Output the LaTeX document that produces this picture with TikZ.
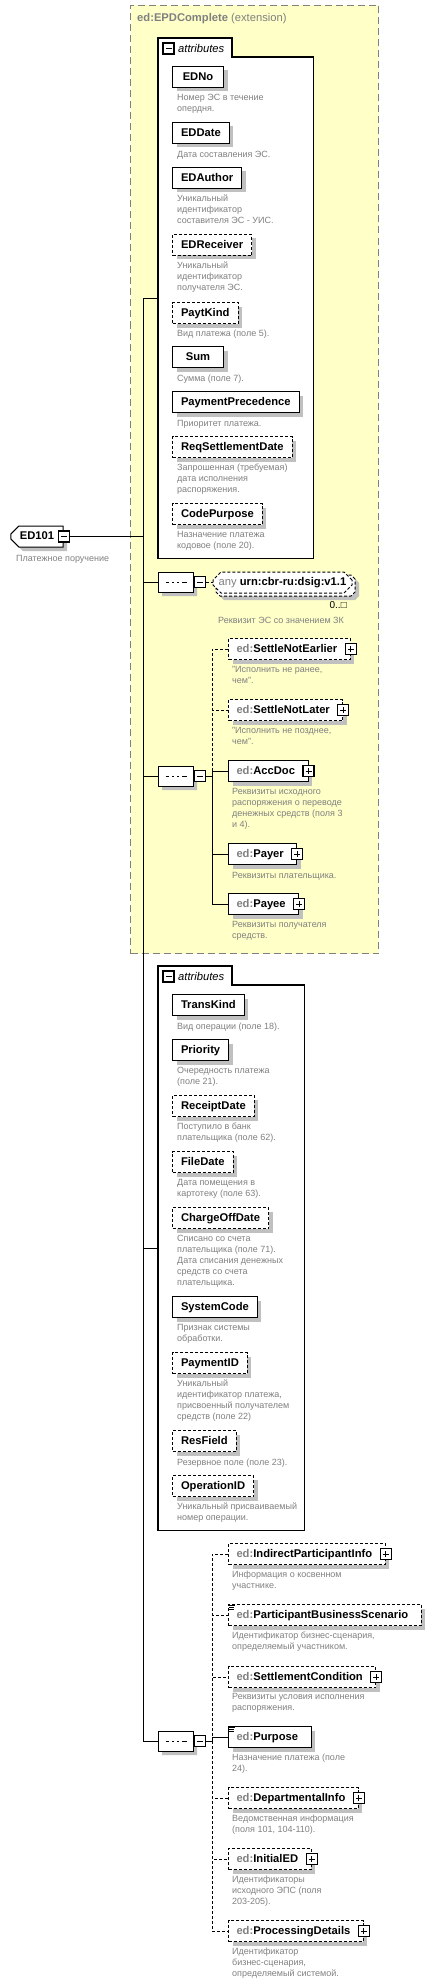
\documentclass[tikz,border=0pt]{standalone}
\usepackage{fontspec}
\setmainfont{Liberation Sans}
\usetikzlibrary{shapes.misc,shadows}
\definecolor{extyellow}{RGB}{255,255,200}
\definecolor{descgray}{RGB}{128,128,128}
\definecolor{shadowgray}{RGB}{192,192,192}

\begin{document}
\begin{tikzpicture}[x=1pt, y=-1pt,
  boxshadow/.style={general shadow={fill=shadowgray, shadow xshift=4pt, shadow yshift=-4pt}},
  attr/.style={draw, line width=1pt, fill=white, boxshadow, anchor=north west,
    minimum width=51pt, minimum height=21pt, inner xsep=8.5pt, inner ysep=0pt,
    text height=8.5pt, text depth=2pt, font=\fontsize{11.2}{13}\selectfont\bfseries},
  elem/.style={attr, inner xsep=8pt, execute at end node=\hspace*{5pt}},
  optional/.style={dash pattern=on 3pt off 2pt},
  desc/.style={anchor=north west, inner sep=0pt, align=left, text=descgray,
    font=\fontsize{9}{11}\selectfont, execute at begin node=\strut},
  signbox/.style={draw, line width=1.2pt, fill=white, minimum size=11pt, inner sep=0pt},
  minusbox/.style={signbox, path picture={\draw[line width=1pt]
    ([xshift=2.5pt]path picture bounding box.west) -- ([xshift=-2.5pt]path picture bounding box.east);}},
  plusbox/.style={signbox, path picture={\draw[line width=1pt]
    ([xshift=2.5pt]path picture bounding box.west) -- ([xshift=-2.5pt]path picture bounding box.east)
    ([yshift=2.5pt]path picture bounding box.south) -- ([yshift=-2.5pt]path picture bounding box.north);}},
  seqbox/.style={chamfered rectangle, chamfered rectangle xsep=5pt, chamfered rectangle ysep=5pt,
    draw, line width=1pt, fill=white, boxshadow, minimum width=35pt, minimum height=20pt, inner sep=0pt,
    path picture={\draw[line width=1pt] ([xshift=-10pt]path picture bounding box.center) -- ([xshift=11pt]path picture bounding box.center);
      \fill ([xshift=-5pt]path picture bounding box.center) +(-1.5,-1.5) rectangle +(1.5,1.5);
      \fill (path picture bounding box.center) +(-1.5,-1.5) rectangle +(1.5,1.5);
      \fill ([xshift=5pt]path picture bounding box.center) +(-1.5,-1.5) rectangle +(1.5,1.5);}},
  rootbox/.style={chamfered rectangle, chamfered rectangle corners={north west,south west},
    chamfered rectangle xsep=4pt, chamfered rectangle ysep=4pt, draw, line width=1pt, fill=white, boxshadow,
    minimum width=52pt, minimum height=21pt, inner xsep=5pt, inner ysep=0pt,
    text height=8.5pt, text depth=2pt, font=\fontsize{11.2}{13}\selectfont\bfseries},
  anybox/.style={chamfered rectangle, chamfered rectangle xsep=4pt, chamfered rectangle ysep=4pt,
    draw, line width=1pt, optional, fill=white, minimum width=139pt, minimum height=21pt, inner sep=0pt,
    text height=8.5pt, text depth=2pt, font=\fontsize{11.2}{13}\selectfont},
  extbox/.style={draw=descgray, fill=extyellow, line width=1pt, dash pattern=on 7pt off 4pt,
    anchor=north west, minimum width=248pt, minimum height=948pt},
  groupbox/.style={anchor=north west, inner sep=0pt},
  attrframe/.style={line width=1.2pt, fill=white},
  conn/.style={line width=1pt},
  icon/.style={line width=0.8pt}]

\useasboundingbox (0,0) rectangle (446,1985);

% Create extension box
\node[extbox] (epd) at (130,5) {};
\node[anchor=west, inner sep=0pt, text=descgray, font=\fontsize{11.2}{13}\selectfont] (epdtitle) at (137,19) {\textbf{ed:EPDComplete} (extension)};

% Create first attribute group
\node[groupbox, minimum width=155pt, minimum height=520pt] (attrs1) at (158,38) {};
\draw[attrframe] (attrs1.north west) -- ++(74,0) -- ++(0,19) -| (attrs1.south east) -- (attrs1.south west) -- cycle;
\node[minusbox] (attrs1m) at (168.5,48.5) {};
\node[anchor=west, inner sep=0pt, font=\fontsize{11.2}{13}\selectfont\itshape] (attrs1lbl) at (178,48) {attributes};

% Label first attributes
\node[attr] (edno) at (172,66) {EDNo};
\node[desc] (ednodesc) at (177,94) {Номер ЭС в течение\\опердня.};
\node[attr] (eddate) at (172,122) {EDDate};
\node[desc] (eddatedesc) at (177,150) {Дата составления ЭС.};
\node[attr] (edauthor) at (172,167) {EDAuthor};
\node[desc] (edauthordesc) at (177,195) {Уникальный\\идентификатор\\составителя ЭС - УИС.};
\node[attr, optional] (edreceiver) at (172,234) {EDReceiver};
\node[desc] (edreceiverdesc) at (177,262) {Уникальный\\идентификатор\\получателя ЭС.};
\node[attr, optional] (paytkind) at (172,302) {PaytKind};
\node[desc] (paytkinddesc) at (177,329) {Вид платежа (поле 5).};
\node[attr] (sum) at (172,346) {Sum};
\node[desc] (sumdesc) at (177,374) {Сумма (поле 7).};
\node[attr] (precedence) at (172,391) {PaymentPrecedence};
\node[desc] (precedencedesc) at (177,419) {Приоритет платежа.};
\node[attr, optional] (reqdate) at (172,436) {ReqSettlementDate};
\node[desc] (reqdatedesc) at (177,464) {Запрошенная (требуемая)\\дата исполнения\\распоряжения.};
\node[attr, optional] (codepurpose) at (172,503) {CodePurpose};
\node[desc] (codepurposedesc) at (177,531) {Назначение платежа\\кодовое (поле 20).};

% Create root element
\node[rootbox] (ed101) at (37,536.5) {ED101};
\node[minusbox] (ed101m) at (ed101.east) {};
\node[desc] (ed101desc) at (16,554) {Платежное поручение};

% Create signature sequence
\node[seqbox] (seq1) at (175.5,582) {};
\node[minusbox, anchor=west] (seq1m) at (seq1.east) {};
\node[anybox, boxshadow] (anyback) at (285.5,585.5) {};
\node[anybox] (any) at (282.5,582.5) {\textcolor{descgray}{any}\ \textbf{urn:cbr-ru:dsig:v1.1}};
\node[anchor=east, inner sep=0pt, font=\fontsize{10}{12}\selectfont] (anymult) at (347,605) {0..□};
\node[desc] (anydesc) at (218,616) {Реквизит ЭС со значением ЗК};

% Create second sequence
\node[seqbox] (seq2) at (175.5,776) {};
\node[minusbox, anchor=west] (seq2m) at (seq2.east) {};
\node[elem, optional] (notearlier) at (228,638) {\textcolor{descgray}{ed:}SettleNotEarlier};
\node[plusbox] (notearlierp) at (notearlier.east) {};
\node[desc] (notearlierdesc) at (232,666) {"Исполнить не ранее,\\чем".};
\node[elem, optional] (notlater) at (228,699) {\textcolor{descgray}{ed:}SettleNotLater};
\node[plusbox] (notlaterp) at (notlater.east) {};
\node[desc] (notlaterdesc) at (232,727) {"Исполнить не позднее,\\чем".};
\node[elem] (accdoc) at (228,760) {\textcolor{descgray}{ed:}AccDoc};
\node[plusbox] (accdocp) at (accdoc.east) {};
\node[desc] (accdocdesc) at (232,788) {Реквизиты исходного\\распоряжения о переводе\\денежных средств (поля 3\\и 4).};
\node[elem] (payer) at (228,843) {\textcolor{descgray}{ed:}Payer};
\node[plusbox] (payerp) at (payer.east) {};
\node[desc] (payerdesc) at (232,871) {Реквизиты плательщика.};
\node[elem] (payee) at (228,893) {\textcolor{descgray}{ed:}Payee};
\node[plusbox] (payeep) at (payee.east) {};
\node[desc] (payeedesc) at (232,921) {Реквизиты получателя\\средств.};

% Create second attribute group
\node[groupbox, minimum width=146pt, minimum height=564pt] (attrs2) at (158,966) {};
\draw[attrframe] (attrs2.north west) -- ++(74,0) -- ++(0,19) -| (attrs2.south east) -- (attrs2.south west) -- cycle;
\node[minusbox] (attrs2m) at (168.5,976.5) {};
\node[anchor=west, inner sep=0pt, font=\fontsize{11.2}{13}\selectfont\itshape] (attrs2lbl) at (178,976) {attributes};

% Label second attributes
\node[attr] (transkind) at (172,994) {TransKind};
\node[desc] (transkinddesc) at (177,1022) {Вид операции (поле 18).};
\node[attr] (priority) at (172,1039) {Priority};
\node[desc] (prioritydesc) at (177,1067) {Очередность платежа\\(поле 21).};
\node[attr, optional] (receiptdate) at (172,1095) {ReceiptDate};
\node[desc] (receiptdatedesc) at (177,1123) {Поступило в банк\\плательщика (поле 62).};
\node[attr, optional] (filedate) at (172,1151) {FileDate};
\node[desc] (filedatedesc) at (177,1179) {Дата помещения в\\картотеку (поле 63).};
\node[attr, optional] (chargeoff) at (172,1207) {ChargeOffDate};
\node[desc] (chargeoffdesc) at (177,1235) {Списано со счета\\плательщика (поле 71).\\Дата списания денежных\\средств со счета\\плательщика.};
\node[attr] (systemcode) at (172,1296) {SystemCode};
\node[desc] (systemcodedesc) at (177,1324) {Признак системы\\обработки.};
\node[attr, optional] (paymentid) at (172,1352) {PaymentID};
\node[desc] (paymentiddesc) at (177,1380) {Уникальный\\идентификатор платежа,\\присвоенный получателем\\средств (поле 22)};
\node[attr, optional] (resfield) at (172,1430) {ResField};
\node[desc] (resfielddesc) at (177,1458) {Резервное поле (поле 23).};
\node[attr, optional] (operationid) at (172,1475) {OperationID};
\node[desc] (operationiddesc) at (177,1503) {Уникальный присваиваемый\\номер операции.};

% Create third sequence
\node[seqbox] (seq3) at (175.5,1741) {};
\node[minusbox, anchor=west] (seq3m) at (seq3.east) {};
\node[elem, optional] (indirect) at (228,1543) {\textcolor{descgray}{ed:}IndirectParticipantInfo};
\node[plusbox] (indirectp) at (indirect.east) {};
\node[desc] (indirectdesc) at (232,1571) {Информация о косвенном\\участнике.};
\node[elem, optional] (scenario) at (228,1604) {\textcolor{descgray}{ed:}ParticipantBusinessScenario};
\node[desc] (scenariodesc) at (232,1632) {Идентификатор бизнес-сценария,\\определяемый участником.};
\node[elem, optional] (condition) at (228,1666) {\textcolor{descgray}{ed:}SettlementCondition};
\node[plusbox] (conditionp) at (condition.east) {};
\node[desc] (conditiondesc) at (232,1693) {Реквизиты условия исполнения\\распоряжения.};
\node[elem] (purpose) at (228,1726) {\textcolor{descgray}{ed:}Purpose};
\node[desc] (purposedesc) at (232,1754) {Назначение платежа (поле\\24).};
\node[elem, optional] (departmental) at (228,1787) {\textcolor{descgray}{ed:}DepartmentalInfo};
\node[plusbox] (departmentalp) at (departmental.east) {};
\node[desc] (departmentaldesc) at (232,1815) {Ведомственная информация\\(поля 101, 104-110).};
\node[elem, optional] (initialed) at (228,1848) {\textcolor{descgray}{ed:}InitialED};
\node[plusbox] (initialedp) at (initialed.east) {};
\node[desc] (initialeddesc) at (232,1876) {Идентификаторы\\исходного ЭПС (поля\\203-205).};
\node[elem, optional] (processing) at (228,1920) {\textcolor{descgray}{ed:}ProcessingDetails};
\node[plusbox] (processingp) at (processing.east) {};
\node[desc] (processingdesc) at (232,1948) {Идентификатор\\бизнес-сценария,\\определяемый системой.};

% Label simple type icons
\draw[icon] ([shift={(1,1.5)}]scenario.north west) -- ++(6,0) ([shift={(1,3.5)}]scenario.north west) -- ++(5,0) ([shift={(1,5.5)}]scenario.north west) -- ++(5,0);
\draw[icon] ([shift={(1,1.5)}]purpose.north west) -- ++(6,0) ([shift={(1,3.5)}]purpose.north west) -- ++(5,0) ([shift={(1,5.5)}]purpose.north west) -- ++(5,0);

% Create spine connectors
\coordinate (spine) at (143,0);
\draw[conn] (ed101m.east) -- (ed101m.east -| spine);
\draw[conn] (attrs1.west) -- (attrs1.west -| spine) -- (seq3.west -| spine) -- (seq3.west);
\draw[conn] (seq1.west -| spine) -- (seq1.west);
\draw[conn] (seq2.west -| spine) -- (seq2.west);
\draw[conn] (attrs2.west -| spine) -- (attrs2.west);
\draw[conn, optional] (seq1m.east) -- (seq1m.east -| any.west);

% Create branch connectors
\coordinate (branch2) at (212,776);
\draw[conn] (seq2m.east) -- (branch2);
\draw[conn, optional] (branch2) |- (notearlier.west);
\draw[conn, optional] (branch2) |- (notlater.west);
\draw[conn] (branch2) |- (accdoc.west);
\draw[conn] (branch2) |- (payer.west);
\draw[conn] (branch2) |- (payee.west);

\coordinate (branch3) at (212,1741);
\draw[conn] (seq3m.east) -- (branch3);
\draw[conn, optional] (branch3) |- (indirect.west);
\draw[conn, optional] (branch3) |- (scenario.west);
\draw[conn, optional] (branch3) |- (condition.west);
\draw[conn] (branch3) |- (purpose.west);
\draw[conn, optional] (branch3) |- (departmental.west);
\draw[conn, optional] (branch3) |- (initialed.west);
\draw[conn, optional] (branch3) |- (processing.west);

\end{tikzpicture}
\end{document}
